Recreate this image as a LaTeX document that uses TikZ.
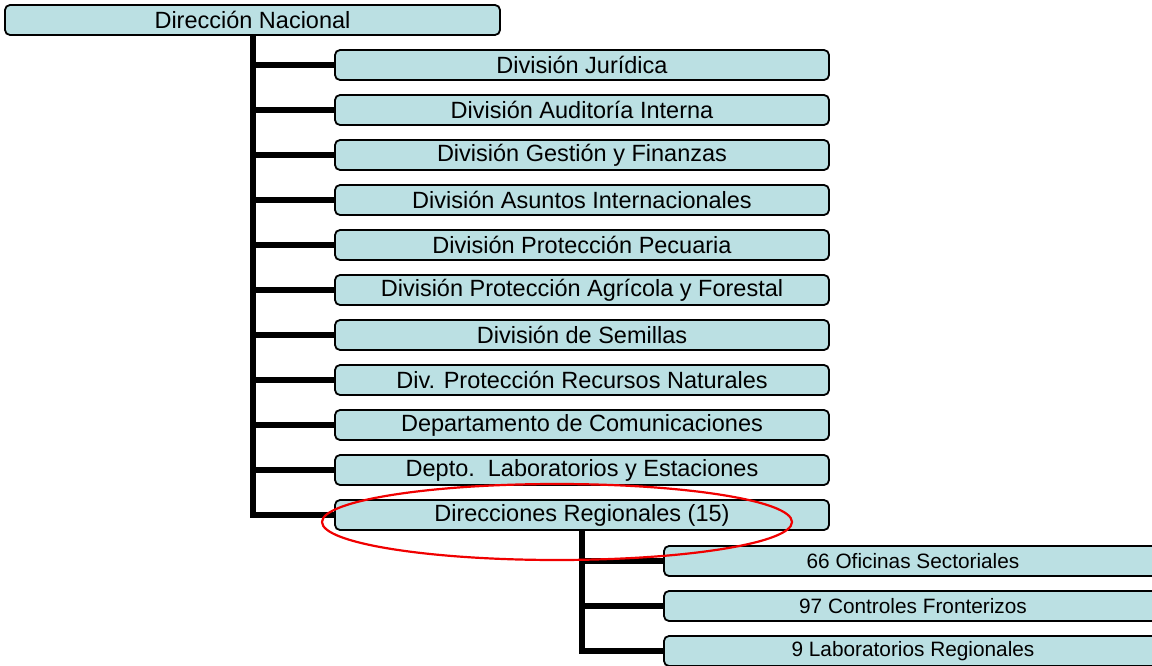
\documentclass[tikz,border=0pt]{standalone}
\usepackage{fontspec}
\setmainfont{Liberation Sans}
\definecolor{boxfill}{RGB}{187,224,227}
\definecolor{ovalred}{RGB}{240,0,0}
\tikzset{
  orgbox/.style={draw=black, line width=1.8pt, rounded corners=5pt, fill=boxfill,
    minimum height=30pt, inner sep=0pt, anchor=center,
    font=\fontsize{23.5}{26}\selectfont},
  subbox/.style={orgbox, font=\fontsize{20.8}{24}\selectfont},
  link/.style={line width=6pt, line join=miter, draw=black}
}
\begin{document}
\begin{tikzpicture}[x=1pt,y=-1pt]
\useasboundingbox (0,0) rectangle (1152,666);
\begin{scope}
\clip (0,0) rectangle (1152,666);
% connectors first
\coordinate (vtop) at (252.5,35);
\coordinate (stop) at (582,530);
\foreach \k in {0,...,10} {
  \pgfmathsetmacro{\yy}{65+45*\k}
  \draw[link] (252.5,\yy) -- (335,\yy);
}
\foreach \k in {0,1,2} {
  \pgfmathsetmacro{\yy}{561+45*\k}
  \draw[link] (582,\yy) -- (664,\yy);
}
\node[orgbox, minimum width=495pt] (top) at (252.5,20) {Dirección Nacional};
\node[orgbox, minimum width=494pt] (d0) at (582,65) {División Jurídica};
\node[orgbox, minimum width=494pt] (d1) at (582,110) {División Auditoría Interna};
\node[orgbox, minimum width=494pt] (d2) at (582,155) {División Gestión y Finanzas};
\node[orgbox, minimum width=494pt] (d3) at (582,200) {División Asuntos Internacionales};
\node[orgbox, minimum width=494pt] (d4) at (582,245) {División Protección Pecuaria};
\node[orgbox, minimum width=494pt] (d5) at (582,290) {División Protección Agrícola y Forestal};
\node[orgbox, minimum width=494pt] (d6) at (582,335) {División de Semillas};
\node[orgbox, minimum width=494pt] (d7) at (582,380) {Div. Protección Recursos Naturales};
\node[orgbox, minimum width=494pt] (d8) at (582,425) {Departamento de Comunicaciones};
\node[orgbox, minimum width=494pt] (d9) at (582,470) {Depto.\ \ Laboratorios y Estaciones};
\node[orgbox, minimum width=494pt] (d10) at (582,515) {Direcciones Regionales (15)};
\node[subbox, minimum width=498pt] (s0) at (913,561) {66 Oficinas Sectoriales};
\node[subbox, minimum width=498pt] (s1) at (913,606) {97 Controles Fronterizos};
\node[subbox, minimum width=498pt] (s2) at (913,651) {9 Laboratorios Regionales};
% trunk lines
\draw[link] (top.south) |- (d10.west);
\draw[link] (d10.south) |- (s2.west);
\draw[link] (d10.south) |- (s0.west);
\draw[link] (d10.south) |- (s1.west);
% red oval
\draw[ovalred, line width=2.2pt] (557,522) ellipse [x radius=235, y radius=38];
\end{scope}
\end{tikzpicture}
\end{document}
